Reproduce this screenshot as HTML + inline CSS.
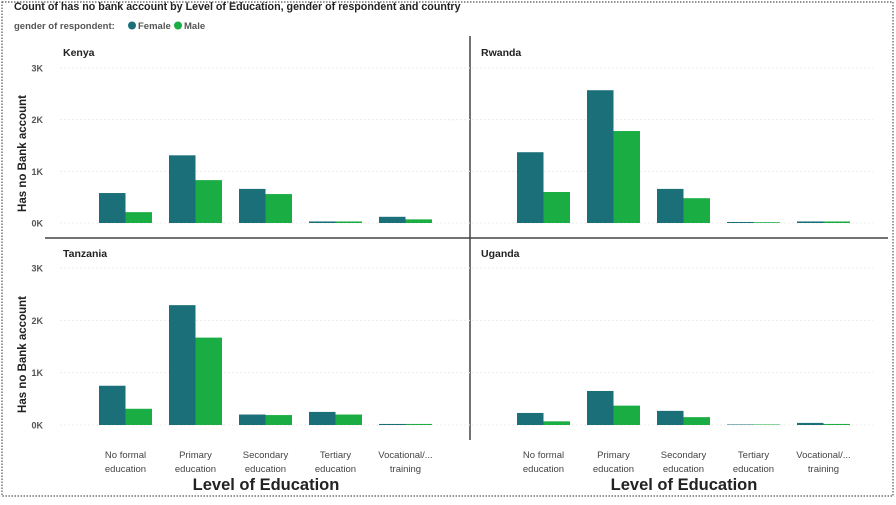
<!DOCTYPE html>
<html><head><meta charset="utf-8"><style>
html,body{margin:0;padding:0;background:#fff;}
body{width:896px;height:500px;overflow:hidden;font-family:"Liberation Sans",sans-serif;}
</style></head><body>
<svg id="chart" width="896" height="500" xmlns="http://www.w3.org/2000/svg">
<rect x="2" y="2" width="891" height="494" fill="none" stroke="#555" stroke-width="1.2" stroke-dasharray="1.5,1.5"/>
<text x="14" y="10" font-size="10.7" font-weight="bold" fill="#222">Count of has no bank account by Level of Education, gender of respondent and country</text>
<text x="14" y="29" font-size="9.5" font-weight="bold" fill="#555">gender of respondent:</text>
<circle cx="132" cy="25.5" r="4" fill="#1b6f78"/>
<text x="138" y="29" font-size="9.5" font-weight="bold" fill="#555">Female</text>
<circle cx="178" cy="25.5" r="4" fill="#1aad43"/>
<text x="184" y="29" font-size="9.5" font-weight="bold" fill="#555">Male</text>
<line x1="45" y1="238" x2="888" y2="238" stroke="#444" stroke-width="1.5"/>
<line x1="470" y1="36" x2="470" y2="440" stroke="#444" stroke-width="1.5"/>
<g id="plots"></g>
</svg>
<script>
const categories = ["No formal|education","Primary|education","Secondary|education","Tertiary|education","Vocational/...|training"];
const countries = ["Kenya","Rwanda","Tanzania","Uganda"];
const femaleKenya = [580,1310,660,30,120];
const maleKenya = [210,830,560,30,70];
const femaleRwanda = [1370,2570,660,20,30];
const maleRwanda = [600,1780,480,15,30];
const femaleTanzania = [750,2290,200,250,20];
const maleTanzania = [310,1670,190,200,20];
const femaleUganda = [230,650,270,10,40];
const maleUganda = [70,370,150,10,20];
const yTicks = [0,1000,2000,3000];
const yTickLabels = ["0K","1K","2K","3K"];

const female = [femaleKenya,femaleRwanda,femaleTanzania,femaleUganda];
const male = [maleKenya,maleRwanda,maleTanzania,maleUganda];
const NS = "http://www.w3.org/2000/svg";
const g = document.getElementById("plots");
function mk(tag, attrs){const e=document.createElementNS(NS,tag);for(const k in attrs)e.setAttribute(k,attrs[k]);g.appendChild(e);return e;}

countries.forEach((c,pi)=>{
  const col = pi%2, row = Math.floor(pi/2);
  const xOff = col*418;
  const base = row===0?223:425;
  const top = row===0?68:268;
  const yScale = v => base - (v/3000)*(base-top);
  const xGroup = i => 99 + xOff + i*70;
  const t = mk("text",{x:(col?481:63),y:(row===0?56:257),"font-size":"10.5","font-weight":"bold",fill:"#222"});
  t.textContent = c;
  
  
  yTicks.forEach((v,ti)=>{
    const gl = mk("line",{x1:60+xOff+(col?-30:0),x2:455+xOff,y1:yScale(v),y2:yScale(v),stroke:"#ececec","stroke-width":"1","stroke-dasharray":"2,2"});
    
    
    if(col===0){
      const tl = mk("text",{x:43,y:yScale(v)+3.5,"font-size":"9","font-weight":"bold",fill:"#555","text-anchor":"end"});
      tl.textContent = yTickLabels[ti];
      
      
    }
  });
  if(col===0){
    const cy=(base+top)/2+8;
    const yt = mk("text",{x:26,y:cy,"font-size":"11.5","font-weight":"bold",fill:"#222","text-anchor":"middle",transform:"rotate(-90 26 "+cy+")"});
    yt.textContent = "Has no Bank account";
    
    
  }
  categories.forEach((cat,i)=>{
    const x = xGroup(i);
    const f = female[pi][i], m = male[pi][i];
    const bf = mk("rect",{x:x,y:yScale(f),width:26.5,height:base-yScale(f),fill:"#1b6f78"});
    
    
    const bm = mk("rect",{x:x+26.5,y:yScale(m),width:26.5,height:base-yScale(m),fill:"#1aad43"});
    
    
    if(row===1){
      cat.split("|").forEach((p,li)=>{
        const xl = mk("text",{x:x+26.5,y:458+li*14,"font-size":"9.5",fill:"#444","text-anchor":"middle"});
        xl.textContent = p;
        
        
      });
    }
  });
  if(row===1){
    const xt = mk("text",{x:266+xOff,y:490,"font-size":"16.5","font-weight":"bold",fill:"#222","text-anchor":"middle"});
    xt.textContent = "Level of Education";
    
    
  }
});
</script>
</body></html>
